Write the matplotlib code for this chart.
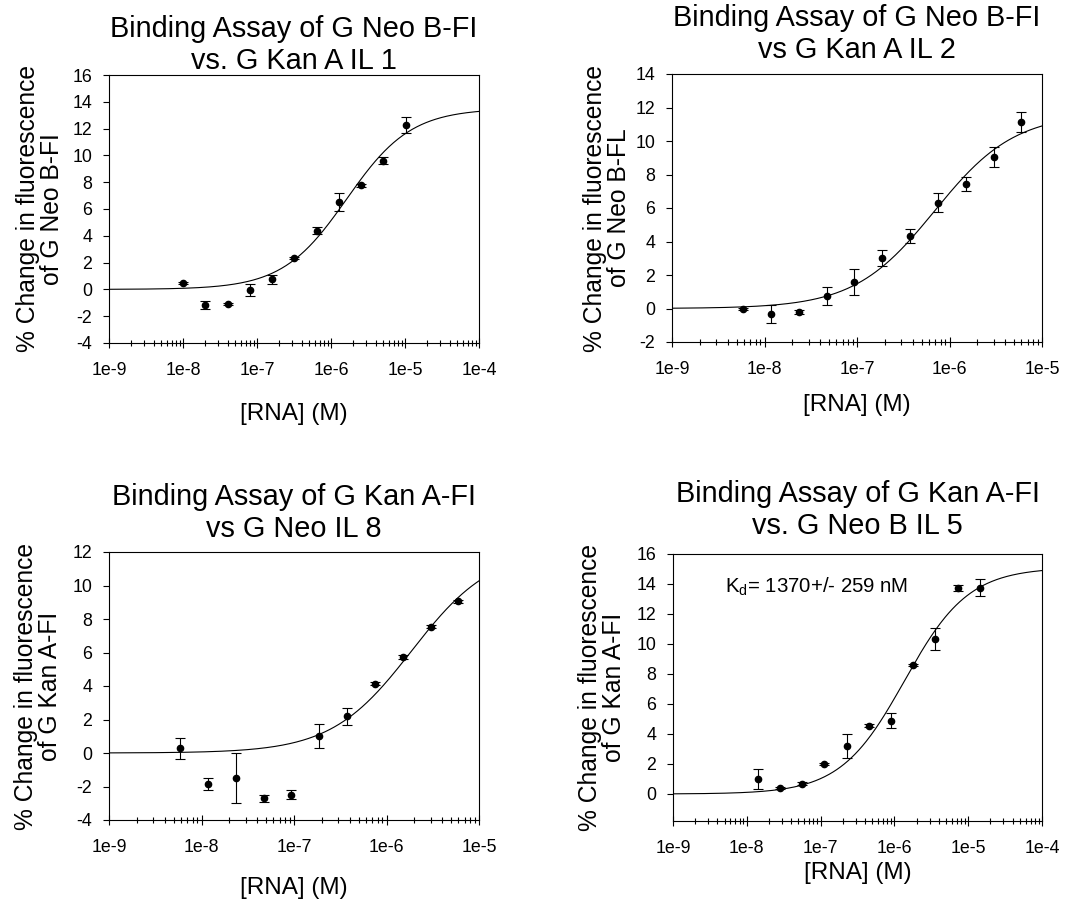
import numpy as np
import matplotlib
matplotlib.use("Agg")
import matplotlib.pyplot as plt
from matplotlib.ticker import LogLocator, NullFormatter

plt.rcParams["font.family"] = ["Liberation Sans", "DejaVu Sans"]
plt.rcParams["mathtext.fontset"] = "custom"
plt.rcParams["mathtext.rm"] = "Liberation Sans"
plt.rcParams["mathtext.it"] = "Liberation Sans:italic"

# panel 1: G Neo B-Fl vs G Kan A IL 1
p1_conc = [1.0e-8, 2.0e-8, 4.0e-8, 8.0e-8, 1.6e-7, 3.2e-7, 6.4e-7, 1.28e-6, 2.56e-6, 5.12e-6, 1.024e-5]
p1_change = [0.47, -1.15, -1.07, -0.03, 0.75, 2.34, 4.39, 6.51, 7.76, 9.60, 12.27]
p1_err = [0.08, 0.32, 0.08, 0.47, 0.35, 0.10, 0.25, 0.65, 0.10, 0.25, 0.57]
p1_bmax, p1_kd = 13.5, 1.63e-6

# panel 2: G Neo B-Fl vs G Kan A IL 2
p2_conc = [5.86e-9, 1.17e-8, 2.34e-8, 4.69e-8, 9.38e-8, 1.875e-7, 3.75e-7, 7.5e-7, 1.5e-6, 3.0e-6, 6.0e-6]
p2_change = [-0.03, -0.35, -0.23, 0.75, 1.57, 3.02, 4.33, 6.32, 7.42, 9.07, 11.14]
p2_err = [0.05, 0.53, 0.12, 0.52, 0.77, 0.50, 0.42, 0.55, 0.42, 0.60, 0.59]
p2_bmax, p2_kd = 11.65, 6.9e-7

# panel 3: G Kan A-Fl vs G Neo IL 8
p3_conc = [5.86e-9, 1.17e-8, 2.34e-8, 4.69e-8, 9.38e-8, 1.875e-7, 3.75e-7, 7.5e-7, 1.5e-6, 3.0e-6, 6.0e-6]
p3_change = [0.28, -1.85, -1.49, -2.71, -2.49, 1.04, 2.19, 4.14, 5.74, 7.55, 9.05]
p3_err = [0.62, 0.37, 1.50, 0.20, 0.28, 0.72, 0.50, 0.10, 0.10, 0.08, 0.08]
p3_bmax, p3_kd = 12.2, 1.87e-6

# panel 4: G Kan A-Fl vs G Neo B IL 5
p4_conc = [1.40e-8, 2.81e-8, 5.63e-8, 1.125e-7, 2.25e-7, 4.5e-7, 9.0e-7, 1.8e-6, 3.6e-6, 7.2e-6, 1.44e-5]
p4_change = [1.00, 0.40, 0.67, 2.00, 3.17, 4.55, 4.88, 8.61, 10.32, 13.76, 13.76]
p4_err = [0.64, 0.08, 0.10, 0.08, 0.80, 0.10, 0.51, 0.08, 0.72, 0.20, 0.58]
p4_bmax, p4_kd = 15.1, 1.37e-6

titles = ["Binding Assay of G Neo B-FI\nvs. G Kan A IL 1",
          "Binding Assay of G Neo B-FI\nvs G Kan A IL 2",
          "Binding Assay of G Kan A-FI\nvs G Neo IL 8",
          "Binding Assay of G Kan A-FI\nvs. G Neo B IL 5"]
ylabels = ["% Change in fluorescence\nof G Neo B-FI",
           "% Change in fluorescence\nof G Neo B-FL",
           "% Change in fluorescence\nof G Kan A-FI",
           "% Change in fluorescence\nof G Kan A-FI"]
xticks_5 = [1e-9, 1e-8, 1e-7, 1e-6, 1e-5, 1e-4]
xlabels_5 = ["1e-9", "1e-8", "1e-7", "1e-6", "1e-5", "1e-4"]
kd_note = "K$_\\mathrm{d}$= 1370+/- 259 nM"


def draw_panel(rect, conc, change, err, bmax, kd, xmax, ylim, yticks,
               title, ylabel, title_pad, xlab_off, ylab_off):
    ax = fig.add_axes(rect)
    ax.set_xscale("log")
    ax.set_xlim(1e-9, xmax)
    ax.set_ylim(*ylim)

    # one-site binding fit
    xs = np.logspace(-9, np.log10(xmax), 400)
    ax.plot(xs, bmax * xs / (kd + xs), color="black", lw=0.8)

    ax.errorbar(conc, change, yerr=err, fmt="o", color="black", ms=4.5,
                elinewidth=0.8, capsize=3.5, capthick=0.8)

    n = xticks_5.index(xmax) + 1
    ax.set_xticks(xticks_5[:n])
    ax.set_xticklabels(xlabels_5[:n])
    ax.xaxis.set_minor_locator(LogLocator(base=10, subs=np.arange(2, 10)))
    ax.xaxis.set_minor_formatter(NullFormatter())
    ax.set_yticks(yticks)
    ax.set_yticklabels([str(v) for v in yticks])

    ax.tick_params(axis="x", which="major", direction="inout", length=7,
                   width=0.8, pad=10, labelsize=12.8)
    ax.tick_params(axis="x", which="minor", direction="inout", length=4, width=0.8)
    ax.tick_params(axis="y", which="major", direction="out", length=4,
                   width=0.8, pad=8, labelsize=12.8)
    for s in ax.spines.values():
        s.set_linewidth(0.8)

    ax.set_title(title, fontsize=20.8, pad=title_pad)
    ax.set_xlabel("[RNA] (M)", fontsize=17.5, va="center")
    ax.xaxis.set_label_coords(0.5, xlab_off)
    ax.set_ylabel(ylabel, fontsize=17.7, va="center", multialignment="center",
                  linespacing=0.95)
    ax.yaxis.set_label_coords(ylab_off, 0.5)
    return ax


fig = plt.figure(figsize=(10.81, 9.07), dpi=100)

draw_panel([109/1081, 1-343/907, 370/1081, 268/907], p1_conc, p1_change, p1_err,
           p1_bmax, p1_kd, 1e-4, (-4, 16), list(range(-4, 17, 2)),
           titles[0], ylabels[0], 3.6, -71/268, -69/370)
draw_panel([672/1081, 1-342/907, 370/1081, 268/907], p2_conc, p2_change, p2_err,
           p2_bmax, p2_kd, 1e-5, (-2, 14), list(range(-2, 15, 2)),
           titles[1], ylabels[1], 11.5, -63/268, -65/370)
draw_panel([109/1081, 1-820/907, 370/1081, 268/907], p3_conc, p3_change, p3_err,
           p3_bmax, p3_kd, 1e-5, (-4, 12), list(range(-4, 13, 2)),
           titles[2], ylabels[2], 10.8, -68/268, -71/370)
ax4 = draw_panel([673/1081, 1-821/907, 369/1081, 267/907], p4_conc, p4_change, p4_err,
                 p4_bmax, p4_kd, 1e-4, (-1.8, 16), list(range(0, 17, 2)),
                 titles[3], ylabels[3], 14.4, -52/267, -71/369)
ax4.text(0.14, 0.876, kd_note, transform=ax4.transAxes, fontsize=14.7,
         ha="left", va="center")

fig.savefig("out.png", dpi=100)
